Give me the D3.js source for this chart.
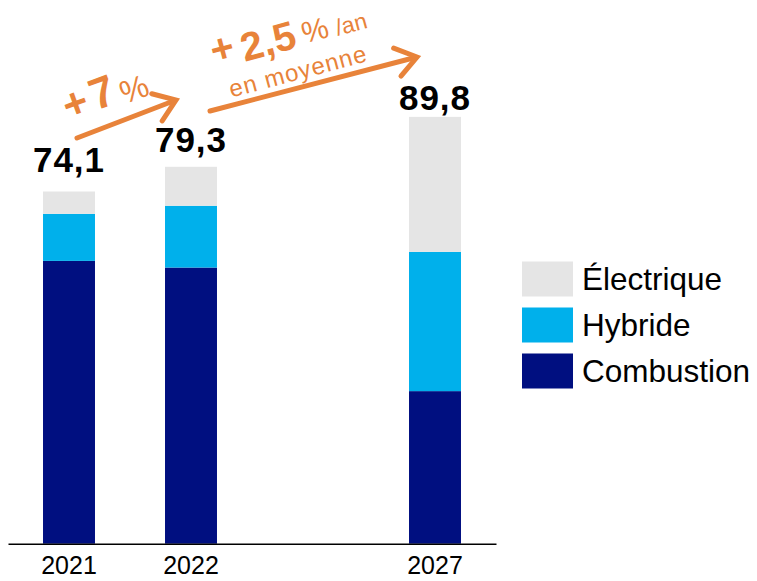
<!DOCTYPE html>
<html>
<head>
<meta charset="utf-8">
<script src="https://cdn.jsdelivr.net/npm/d3@7"></script>
<style>
  html, body { margin: 0; padding: 0; background: #fff; }
  svg { display: block; }
</style>
</head>
<body>
<svg id="chart" width="757" height="581"></svg>
<script>
// ---- data ----
const years = ["2021", "2022", "", "2027"];
const seriesNames = ["Combustion", "Hybride", "Électrique"];
const combustion = [59.5, 58.1, null, 32.1];
const hybride = [9.9, 13.0, null, 29.3];
const electrique = [4.7, 8.2, null, 28.4];
const totals = ["74,1", "79,3", null, "89,8"];
const legendOrder = ["Électrique", "Hybride", "Combustion"];

// ---- setup ----
const colors = { "Combustion": "#000F80", "Hybride": "#00B0EB", "Électrique": "#E5E5E5" };
const orange = "#E8833A";
const font = "'Liberation Sans', Arial, sans-serif";

const svg = d3.select("#chart");

const x = d3.scaleBand().domain(years.map((d, i) => i))
  .range([8, 496]).paddingInner(0.574).paddingOuter(0.287);
const y = d3.scaleLinear().domain([0, 100]).range([543.7, 68.4]);

const rows = years.map((yr, i) => ({
  i, yr,
  "Combustion": combustion[i], "Hybride": hybride[i], "Électrique": electrique[i]
})).filter(d => d.yr !== "");

const stack = d3.stack().keys(seriesNames);
const layers = stack(rows);

svg.append("g").selectAll("g").data(layers).join("g")
  .attr("fill", d => colors[d.key])
  .selectAll("rect").data(d => d).join("rect")
  .attr("x", d => x(d.data.i))
  .attr("width", x.bandwidth())
  .attr("y", d => y(d[1]))
  .attr("height", d => y(d[0]) - y(d[1]));

// axis
const axis = d3.axisBottom(x).tickSize(0).tickPadding(0)
  .tickFormat(i => years[i]);
const ag = svg.append("g").attr("transform", `translate(0,${y(0)})`).call(axis);
ag.select(".domain").attr("stroke", "#000").attr("stroke-width", 1.5);
ag.selectAll("text").attr("font-family", font).attr("font-size", 25)
  .attr("fill", "#000").attr("dy", 0).attr("y", 30.5);

// totals
const lift = [20, 15, 0, 7];
rows.forEach(d => {
  const tot = d["Combustion"] + d["Hybride"] + d["Électrique"];
  svg.append("text")
    .attr("x", x(d.i) + x.bandwidth() / 2 + 0)
    .attr("y", y(tot) - lift[d.i])
    .attr("text-anchor", "middle")
    .attr("font-family", font).attr("font-weight", "bold")
    .attr("font-size", 35).attr("fill", "#000")
    .attr("letter-spacing", 1)
    .text(totals[d.i]);
});

// legend
const lg = svg.append("g");
legendOrder.forEach((k, j) => {
  const cy = 279 + j * 46;
  lg.append("rect").attr("x", 522).attr("y", cy - 17.5).attr("width", 51).attr("height", 35)
    .attr("fill", colors[k]);
  lg.append("text").attr("x", 582).attr("y", cy + 11)
    .attr("font-family", font).attr("font-size", 31.5).attr("fill", "#000")
    .text(k);
});

// arrows
function arrow(x1, y1, x2, y2) {
  const a = Math.atan2(y2 - y1, x2 - x1);
  const L = 25, spread = 0.62;
  const p1 = [x2 - L * Math.cos(a - spread), y2 - L * Math.sin(a - spread)];
  const p2 = [x2 - L * Math.cos(a + spread), y2 - L * Math.sin(a + spread)];
  svg.append("line").attr("x1", x1).attr("y1", y1).attr("x2", x2 - 2 * Math.cos(a)).attr("y2", y2 - 2 * Math.sin(a))
    .attr("stroke", orange).attr("stroke-width", 5).attr("stroke-linecap", "round");
  svg.append("path").attr("d", `M${p1}L${x2},${y2}L${p2}`)
    .attr("fill", "none").attr("stroke", orange).attr("stroke-width", 5)
    .attr("stroke-linecap", "round").attr("stroke-linejoin", "miter");
}
arrow(77, 138, 176, 100);
arrow(210, 111, 417, 57);

function label(txt, cx, cy, size, weight, rot, ls) {
  svg.append("text")
    .attr("transform", `translate(${cx},${cy}) rotate(${rot})`)
    .attr("text-anchor", "middle").attr("dominant-baseline", "central")
    .attr("font-family", font).attr("font-size", size)
    .attr("font-weight", weight).attr("fill", orange)
    .attr("letter-spacing", ls || 0)
    .text(txt);
}
label("+", 75, 103, 42, "bold", -20);
label("7", 102, 92, 44, "bold", -20);
label("%", 134, 89, 32, "normal", -20);

label("+", 222, 48, 40, "bold", -15);
label("2,5", 268, 41, 40, "bold", -15);
label("%", 315, 30, 30, "normal", -15);
label("/an", 351, 24, 23, "normal", -15);
label("en moyenne", 298, 71, 24, "normal", -15, 1);
</script>
</body>
</html>
